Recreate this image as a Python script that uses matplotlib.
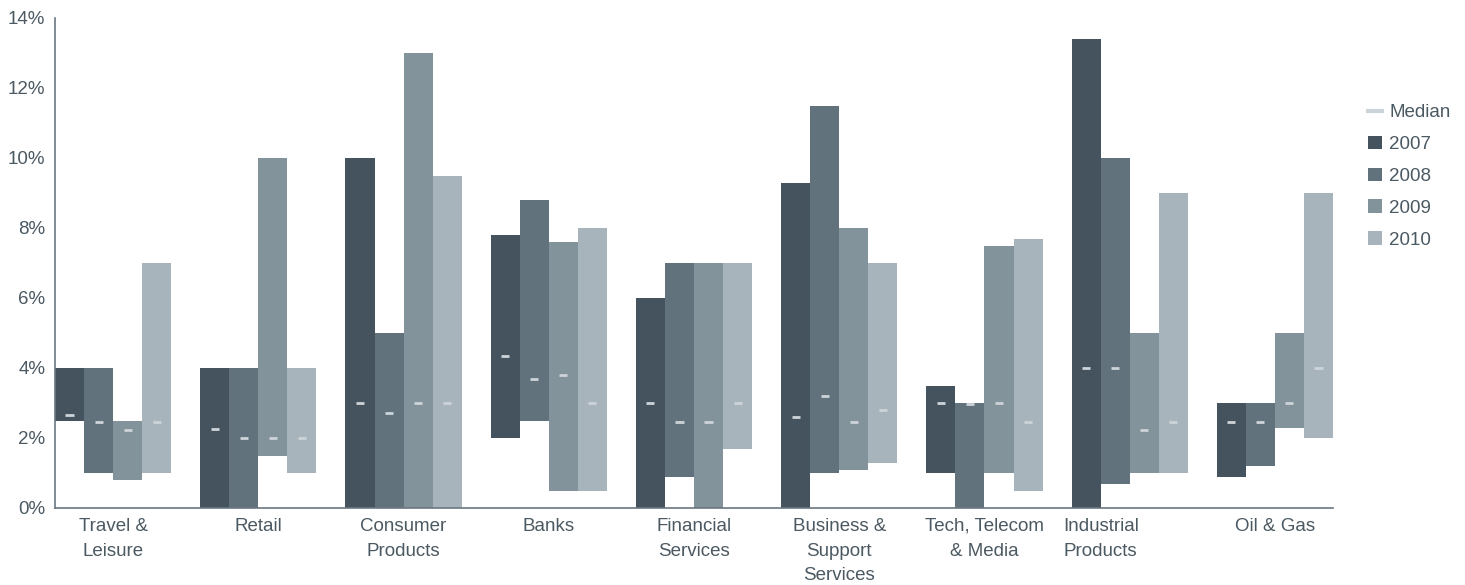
import numpy as np
import matplotlib
matplotlib.use("Agg")
import matplotlib.pyplot as plt
import matplotlib.transforms as mtransforms
from matplotlib.patches import Patch
from matplotlib.lines import Line2D

plt.rcParams['font.family'] = ['Liberation Sans', 'DejaVu Sans']

sectors = ["Travel &\nLeisure", "Retail", "Consumer\nProducts", "Banks",
           "Financial\nServices", "Business &\nSupport\nServices",
           "Tech, Telecom\n& Media", "Industrial\nProducts", "Oil & Gas"]
years = ["2007", "2008", "2009", "2010"]

# low / high / median per year, one value per sector (%)
low_2007 = [2.5, 0, 0, 2.0, 0, 0, 1.0, 0, 0.9]
high_2007 = [4.0, 4.0, 10.0, 7.8, 6.0, 9.3, 3.5, 13.4, 3.0]
med_2007 = [2.65, 2.25, 3.0, 4.35, 3.0, 2.6, 3.0, 4.0, 2.45]

low_2008 = [1.0, 0, 0, 2.5, 0.9, 1.0, 0, 0.7, 1.2]
high_2008 = [4.0, 4.0, 5.0, 8.8, 7.0, 11.5, 3.0, 10.0, 3.0]
med_2008 = [2.45, 2.0, 2.72, 3.68, 2.45, 3.2, 2.98, 4.0, 2.45]

low_2009 = [0.8, 1.5, 0, 0.5, 0, 1.1, 1.0, 1.0, 2.3]
high_2009 = [2.5, 10.0, 13.0, 7.6, 7.0, 8.0, 7.5, 5.0, 5.0]
med_2009 = [2.22, 2.0, 3.0, 3.8, 2.45, 2.45, 3.0, 2.22, 3.0]

low_2010 = [1.0, 1.0, 0, 0.5, 1.7, 1.3, 0.5, 1.0, 2.0]
high_2010 = [7.0, 4.0, 9.5, 8.0, 7.0, 7.0, 7.7, 9.0, 9.0]
med_2010 = [2.45, 2.0, 3.0, 3.0, 3.0, 2.8, 2.45, 2.45, 4.0]

lows = [low_2007, low_2008, low_2009, low_2010]
highs = [high_2007, high_2008, high_2009, high_2010]
meds = [med_2007, med_2008, med_2009, med_2010]

colors = ["#44535d", "#62727c", "#83939b", "#a8b4bb"]
med_color = "#cdd4d9"
text_color = "#4b5962"
axis_color = "#6b7780"

fig = plt.figure(figsize=(14.65, 5.85), dpi=100)
ax = fig.add_axes([55 / 1465, 1 - 508 / 585, (1333 - 55) / 1465, (508 - 18) / 585])

n = len(sectors)
group = np.arange(n) * 5
for i in range(4):
    x = group + i
    lo = np.array(lows[i])
    hi = np.array(highs[i])
    ax.bar(x, hi - lo, bottom=lo, width=1, align='edge', color=colors[i], linewidth=0)
    ax.hlines(meds[i], x + 0.36, x + 0.64, color=med_color, linewidth=2)

ax.set_xlim(0, 44)
ax.set_ylim(0, 14)
ax.set_yticks(np.arange(0, 15, 2))
ax.set_yticklabels(["%d%%" % v for v in range(0, 15, 2)])
ax.set_xticks(group + 2)
ax.set_xticklabels(sectors, linespacing=1.6)
ax.tick_params(length=0, labelsize=13.5, colors=text_color)
ax.tick_params(axis='x', pad=7)
ax.tick_params(axis='y', pad=7)
for s in ["top", "right"]:
    ax.spines[s].set_visible(False)
for s in ["left", "bottom"]:
    ax.spines[s].set_color(axis_color)
    ax.spines[s].set_linewidth(1.2)

# the "Industrial Products" label sits left-aligned under its group
lbl = ax.get_xticklabels()[7]
lbl.set_horizontalalignment('left')
lbl.set_multialignment('left')
lbl.set_transform(lbl.get_transform() +
                  mtransforms.ScaledTranslation(-0.66, 0, fig.dpi_scale_trans))

handles = [Line2D([0], [0], color=med_color, linewidth=3)]
handles += [Patch(facecolor=c, edgecolor='none') for c in colors]
leg = fig.legend(handles, ["Median"] + years, loc='upper left',
                 bbox_to_anchor=(1351 / 1465, 1 - 87 / 585), frameon=False,
                 fontsize=13.5, handlelength=0.75, handleheight=0.75,
                 handletextpad=0.4, labelspacing=0.77, labelcolor=text_color)

fig.savefig("out.png", dpi=100)
